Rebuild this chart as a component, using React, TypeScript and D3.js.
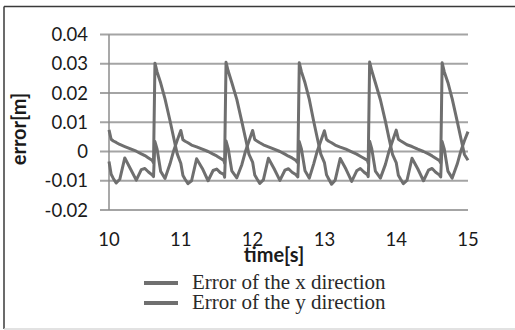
import React from "react";
import * as d3 from "d3";

// sample times (s)
const time = [
  10, 10.03, 10.06, 10.1, 10.15, 10.22, 10.3, 10.38, 10.45, 10.5, 10.55, 10.6, 10.62, 10.64, 10.67, 10.72, 10.78, 10.85, 10.9, 10.95,
  11, 11.03, 11.06, 11.1, 11.15, 11.22, 11.3, 11.38, 11.45, 11.5, 11.55, 11.6, 11.61, 11.63, 11.66, 11.71, 11.78, 11.85, 11.9, 11.95,
  12, 12.03, 12.06, 12.1, 12.15, 12.22, 12.3, 12.38, 12.45, 12.5, 12.55, 12.6, 12.63, 12.65, 12.68, 12.73, 12.79, 12.85, 12.9, 12.95,
  13, 13.03, 13.06, 13.1, 13.15, 13.22, 13.3, 13.38, 13.45, 13.5, 13.55, 13.6, 13.61, 13.63, 13.66, 13.71, 13.78, 13.85, 13.9, 13.95,
  14, 14.03, 14.06, 14.1, 14.15, 14.22, 14.3, 14.38, 14.45, 14.5, 14.55, 14.6, 14.62, 14.64, 14.67, 14.72, 14.78, 14.85, 14.9, 14.95,
  15,
];

// error of the x direction (m)
const errX = [
  0.0074, 0.0042, 0.0036, 0.0031, 0.0024, 0.0017, 0.0009, 0.0001, -0.0008, -0.0014, -0.0022, -0.003, -0.0038, 0.0302, 0.0272, 0.0234, 0.018, 0.0105, 0.0048, -0.0008,
  -0.004, -0.0082, -0.0095, -0.011, -0.01, -0.0025, -0.0058, -0.01, -0.0065, -0.006, -0.0072, -0.0078, -0.0088, 0.0036, 0.001, -0.0066, -0.009, -0.0045, 0.0, 0.0036,
  0.0072, 0.0041, 0.0036, 0.003, 0.0023, 0.0016, 0.0008, 0.0, -0.0009, -0.0016, -0.0022, -0.003, -0.0039, 0.0303, 0.0273, 0.0235, 0.0178, 0.0104, 0.0047, -0.0009,
  -0.0038, -0.008, -0.0094, -0.0112, -0.0098, -0.0024, -0.006, -0.0102, -0.0066, -0.0058, -0.007, -0.008, -0.0086, 0.0035, 0.0009, -0.0067, -0.0091, -0.0044, 0.0001, 0.0037,
  0.0073, 0.0042, 0.0037, 0.0031, 0.0023, 0.0017, 0.0008, 0.0, -0.0008, -0.0015, -0.0023, -0.0031, -0.0039, 0.0303, 0.0272, 0.0236, 0.018, 0.0103, 0.0046, -0.001,
  -0.003,
];

// error of the y direction (m)
const errY = [
  -0.0034, -0.0078, -0.0092, -0.0108, -0.0095, -0.0022, -0.006, -0.0098, -0.0062, -0.0058, -0.007, -0.008, -0.0086, 0.0034, 0.0008, -0.0068, -0.0092, -0.0042, 0.0002, 0.0038,
  0.0072, 0.004, 0.0035, 0.003, 0.0022, 0.0016, 0.0008, 0.0, -0.0009, -0.0015, -0.0023, -0.0031, -0.004, 0.0305, 0.0275, 0.0236, 0.0178, 0.0102, 0.0046, -0.001,
  -0.0036, -0.008, -0.0093, -0.0109, -0.0097, -0.0023, -0.0059, -0.0099, -0.0064, -0.0059, -0.0071, -0.0079, -0.0087, 0.0034, 0.0009, -0.0066, -0.0091, -0.0043, 0.0001, 0.0036,
  0.0071, 0.0041, 0.0035, 0.003, 0.0022, 0.0015, 0.0008, -0.0001, -0.0009, -0.0016, -0.0023, -0.0031, -0.004, 0.0306, 0.0276, 0.0235, 0.0177, 0.0103, 0.0045, -0.0011,
  -0.0038, -0.0081, -0.0094, -0.011, -0.0099, -0.0023, -0.0059, -0.01, -0.0064, -0.0058, -0.0071, -0.008, -0.0087, 0.0034, 0.0008, -0.0067, -0.0091, -0.0043, 0.0001, 0.0037,
  0.0068,
];

const xTicks = [10, 11, 12, 13, 14, 15];
const yTicks = [-0.02, -0.01, 0, 0.01, 0.02, 0.03, 0.04];
const seriesNames = ["Error of the x direction", "Error of the y direction"];

const W = 515, H = 330;
const LINE = "#6f6f6f";

const fmtY = (v: number) => (v === 0 ? "0" : d3.format(".2f")(v).replace("\u2212", "-"));

export default function App() {
  const x = d3.scaleLinear().domain([10, 15]).range([109, 468]);
  const y = d3.scaleLinear().domain([-0.02, 0.04]).range([210, 34.5]);

  const line = d3.line<number>()
    .x((_, i) => x(time[i]))
    .y((d) => y(d));

  return (
    <svg width={W} height={H} style={{ position: "absolute", left: 0, top: 0, background: "#fff" }}>
      {/* frame */}
      <line x1={4} x2={4} y1={6.5} y2={329} stroke="#3a3a3a" strokeWidth={1.5} />
      <line x1={4} x2={W} y1={6.5} y2={6.5} stroke="#3a3a3a" strokeWidth={1.5} />
      <line x1={4} x2={W} y1={329} y2={329} stroke="#d8d8d8" strokeWidth={1.5} />

      {/* grid */}
      {yTicks.map((t) => (
        <line key={t} x1={100} x2={468} y1={y(t)} y2={y(t)} stroke="#a4a4a4" strokeWidth={2} />
      ))}
      <line x1={109} x2={109} y1={y(0.04)} y2={y(-0.02)} stroke="#8c8c8c" strokeWidth={1.5} />

      {/* y tick labels */}
      {yTicks.map((t) => (
        <text key={t} x={88} y={y(t) + 6.5} textAnchor="end" fontFamily="Lato" fontSize={18.5} fill="#1a1a1a">
          {fmtY(t)}
        </text>
      ))}
      {/* x tick labels */}
      {xTicks.map((t) => (
        <text key={t} x={x(t)} y={246} textAnchor="middle" fontFamily="Lato" fontSize={18.5} fill="#1a1a1a">
          {t}
        </text>
      ))}

      {/* axis titles */}
      <text x={274} y={262} textAnchor="middle" fontFamily="Lato" fontWeight="bold" fontSize={20} fill="#1a1a1a">
        time[s]
      </text>
      <text transform="translate(26,129) rotate(-90)" textAnchor="middle" fontFamily="Lato" fontWeight="bold" fontSize={20} fill="#1a1a1a">
        error[m]
      </text>

      {/* series */}
      {[errX, errY].map((s, i) => (
        <path key={i} d={line(s) ?? ""} fill="none" stroke={LINE} strokeWidth={3} strokeLinejoin="round" />
      ))}

      {/* legend */}
      {seriesNames.map((n, i) => (
        <g key={n} transform={`translate(0,${283 + i * 20})`}>
          <line x1={144} x2={178} y1={0} y2={0} stroke={LINE} strokeWidth={4} />
          <text x={192} y={6} fontFamily="Liberation Serif" fontSize={21} fill="#2a2a2a">
            {n}
          </text>
        </g>
      ))}
    </svg>
  );
}
